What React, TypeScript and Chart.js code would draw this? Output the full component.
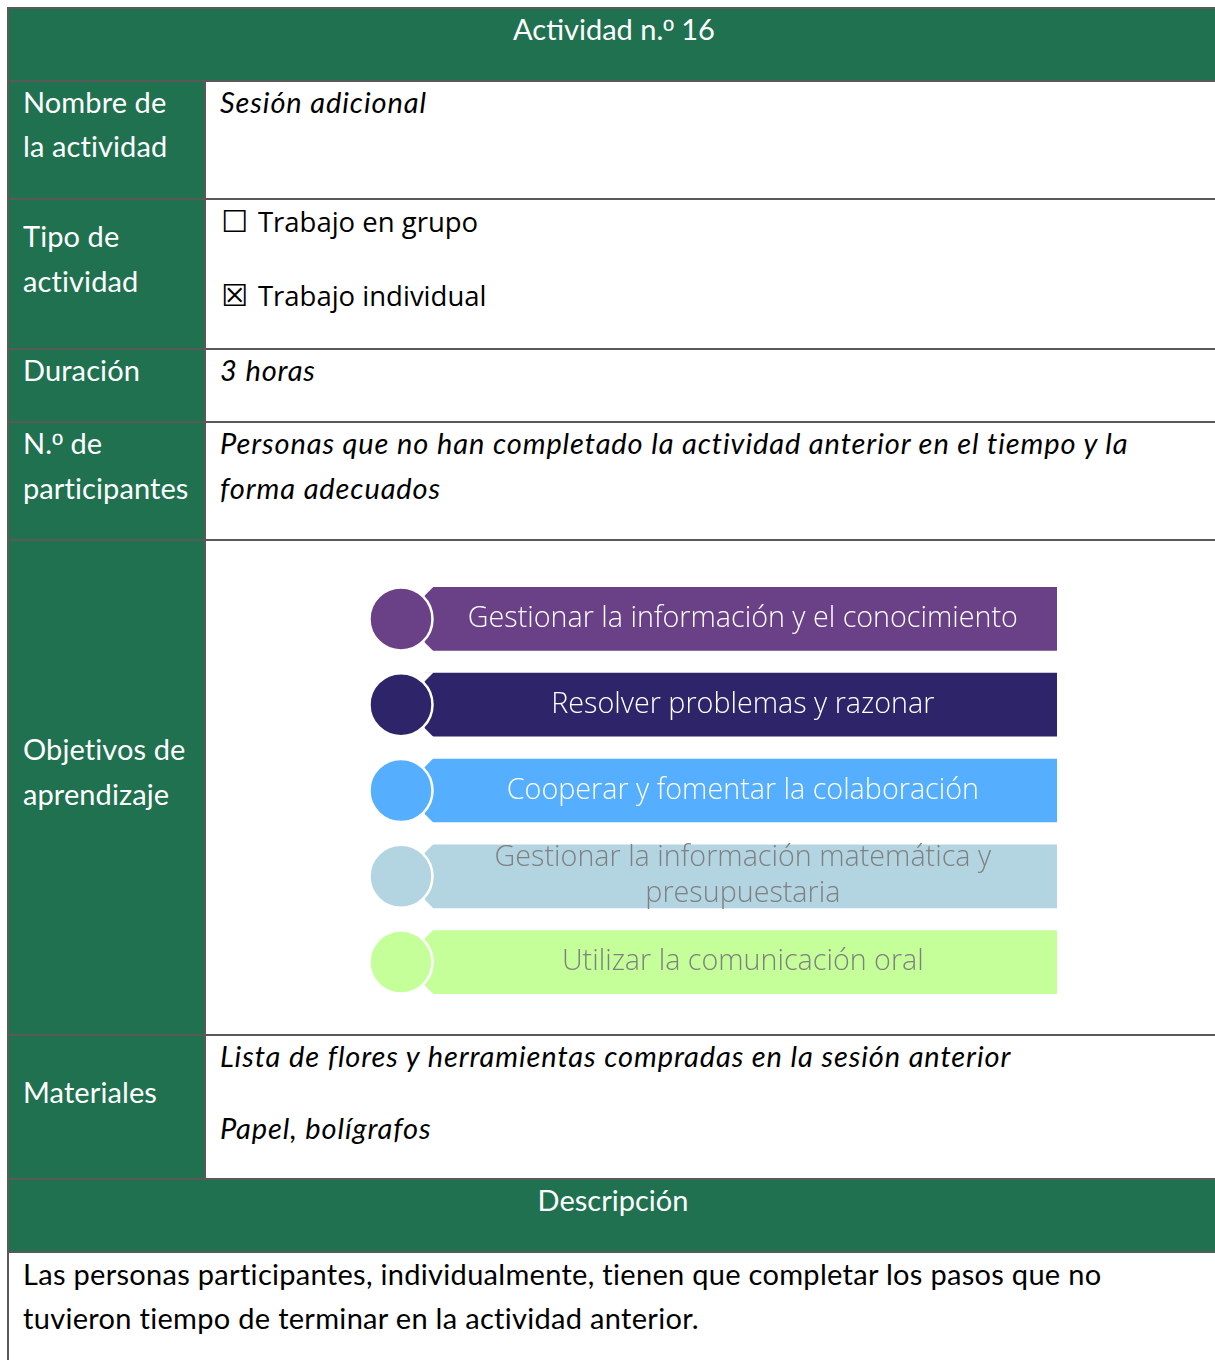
import React, { useEffect, useRef } from 'react';
import Chart from 'chart.js/auto';

// ---- content ----
const headerTitle = 'Actividad n.º 16';
const descTitle = 'Descripción';
const rowLabels = [
  ['Nombre de', 'la actividad'],
  ['Tipo de', 'actividad'],
  ['Duración'],
  ['N.º de', 'participantes'],
  ['Objetivos de', 'aprendizaje'],
  ['Materiales'],
];
const nameText = 'Sesión adicional';
const typeOptions = ['Trabajo en grupo', 'Trabajo individual'];
const typeChecked = [false, true];
const durationText = '3 horas';
const participantsLines = [
  'Personas que no han completado la actividad anterior en el tiempo y la',
  'forma adecuados',
];
const materialsLines = [
  'Lista de flores y herramientas compradas en la sesión anterior',
  'Papel, bolígrafos',
];
const descriptionLines = [
  'Las personas participantes, individualmente, tienen que completar los pasos que no',
  'tuvieron tiempo de terminar en la actividad anterior.',
];

// ---- diagram data ----
const objectiveLabels: (string | string[])[] = [
  'Gestionar la información y el conocimiento',
  'Resolver problemas y razonar',
  'Cooperar y fomentar la colaboración',
  ['Gestionar la información matemática y', 'presupuestaria'],
  'Utilizar la comunicación oral',
];
const barStart = [8.1, 8.1, 8.1, 8.1, 8.1];
const barEnd = [100, 100, 100, 100, 100];
const markerX = [4.65, 4.65, 4.65, 4.65, 4.65];
const objectiveColors = ['#6A4187', '#2D2469', '#56AEFF', '#B3D4E1', '#C5FF99'];
const objectiveTextColors = ['#FFFFFF', '#FFFFFF', '#FFFFFF', '#808080', '#808080'];

const GREEN = '#1F7150';
const BORDER = '#595959';
const CAL = 'Lato, "Open Sans", sans-serif';
const SEG = '"Open Sans", "Noto Sans", sans-serif';

function Diagram() {
  const ref = useRef<HTMLCanvasElement>(null);
  useEffect(() => {
    const chamfer = {
      id: 'chamfer',
      afterDatasetDraw(chart: any, args: any) {
        if (args.index !== 0) return;
        const ctx = chart.ctx;
        const meta = chart.getDatasetMeta(0);
        ctx.save();
        ctx.fillStyle = '#FFFFFF';
        meta.data.forEach((el: any) => {
          const p = el.getProps(['base', 'y', 'height'], true);
          const top = p.y - p.height / 2;
          const bot = p.y + p.height / 2;
          const c = 9;
          ctx.beginPath();
          ctx.moveTo(p.base - 1, top - 1);
          ctx.lineTo(p.base + c, top - 1);
          ctx.lineTo(p.base - 1, top + c);
          ctx.closePath();
          ctx.fill();
          ctx.beginPath();
          ctx.moveTo(p.base - 1, bot + 1);
          ctx.lineTo(p.base + c, bot + 1);
          ctx.lineTo(p.base - 1, bot - c);
          ctx.closePath();
          ctx.fill();
        });
        ctx.restore();
      },
    };
    const barText = {
      id: 'barText',
      afterDatasetsDraw(chart: any) {
        const ctx = chart.ctx;
        const meta = chart.getDatasetMeta(0);
        ctx.save();
        ctx.font = '300 28.7px "Open Sans", "Noto Sans", sans-serif';
        ctx.textAlign = 'center';
        ctx.textBaseline = 'middle';
        meta.data.forEach((el: any, i: number) => {
          const p = el.getProps(['base', 'x', 'y'], true);
          const cx = (p.base + p.x) / 2 + 2;
          const lab = objectiveLabels[i];
          const lines = Array.isArray(lab) ? lab : [lab];
          const lh = 36;
          ctx.fillStyle = objectiveTextColors[i];
          lines.forEach((ln, j) => {
            const yy = p.y + (j - (lines.length - 1) / 2) * lh;
            ctx.fillText(ln, cx, yy);
          });
        });
        ctx.restore();
      },
    };
    const chart = new Chart(ref.current!, {
      type: 'bar',
      data: {
        labels: objectiveLabels as any,
        datasets: [
          {
            type: 'bar',
            data: objectiveLabels.map((_, i) => [barStart[i], barEnd[i]]) as any,
            backgroundColor: objectiveColors,
            borderWidth: 0,
            barThickness: 63,
            order: 2,
          } as any,
          {
            type: 'scatter',
            data: markerX.map((x, i) => ({ x, y: i })) as any,
            pointRadius: 31.5,
            pointBackgroundColor: objectiveColors,
            pointBorderColor: '#FFFFFF',
            pointBorderWidth: 2.5,
            order: 1,
            clip: false,
          } as any,
        ],
      },
      options: {
        indexAxis: 'y',
        animation: false,
        responsive: false,
        events: [],
        layout: { padding: 0, autoPadding: false },
        plugins: { legend: { display: false }, tooltip: { enabled: false } },
        scales: {
          x: { type: 'linear', min: 0, max: 100, display: false },
          y: { type: 'category', display: false, offset: true, grid: { offset: true } },
        },
      } as any,
      plugins: [chamfer, barText],
    });
    return () => chart.destroy();
  }, []);
  return (
    <canvas
      ref={ref}
      width={688}
      height={429}
      style={{ position: 'absolute', left: 369, top: 576, width: 688, height: 429 }}
    />
  );
}

function withOrdinal(text: string) {
  const parts = text.split('º');
  const out: any[] = [];
  parts.forEach((p, i) => {
    out.push(p);
    if (i < parts.length - 1) out.push(<span key={i} style={{ fontFamily: '"Liberation Sans", "DejaVu Sans", sans-serif' }}>º</span>);
  });
  return out;
}

function T(props: { x: number; cy: number; text: string; size?: number; color?: string; italic?: boolean; font?: string; center?: boolean; ls?: number }) {
  const size = props.size ?? 29;
  const lh = 40;
  const style: any = {
    position: 'absolute',
    top: props.cy - lh / 2,
    lineHeight: lh + 'px',
    height: lh,
    fontSize: size,
    fontFamily: props.font ?? CAL,
    fontStyle: props.italic ? 'italic' : 'normal',
    fontWeight: 400,
    color: props.color ?? '#000',
    whiteSpace: 'nowrap',
    letterSpacing: props.ls ?? 0,
  };
  if (props.center) {
    style.left = props.x - 400;
    style.width = 800;
    style.textAlign = 'center';
  } else {
    style.left = props.x;
  }
  return <div style={style}>{withOrdinal(props.text)}</div>;
}

const labelCenters = [[102, 146], [236, 281], [370], [443, 488], [749, 794], [1092]];
const IT_LS = 0.9;

export default function App() {
  const hLines = [7, 80, 198, 348, 421, 539, 1034, 1178, 1251];
  return (
    <div style={{ position: 'absolute', left: 0, top: 0, width: 1215, height: 1360, overflow: 'hidden', background: '#fff' }}>
      <div style={{ position: 'absolute', left: 8, top: 8, width: 1220, height: 73, background: GREEN }} />
      <div style={{ position: 'absolute', left: 8, top: 81, width: 197, height: 1097, background: GREEN }} />
      <div style={{ position: 'absolute', left: 8, top: 1178, width: 1220, height: 74, background: GREEN }} />
      {hLines.map((y, i) => (
        <div key={'h' + i} style={{ position: 'absolute', left: 7, top: y, width: 1220, height: 2, background: BORDER }} />
      ))}
      <div style={{ position: 'absolute', left: 7, top: 7, width: 2, height: 1360, background: BORDER }} />
      <div style={{ position: 'absolute', left: 204, top: 80, width: 2, height: 1099, background: BORDER }} />

      <T x={614} cy={29} text={headerTitle} color="#fff" center />
      {rowLabels.map((lines, i) =>
        lines.map((ln, j) => <T key={i + '-' + j} x={23} cy={labelCenters[i][j]} text={ln} color="#fff" ls={0.1} />)
      )}
      <T x={220} cy={102} text={nameText} italic ls={IT_LS} />
      {typeOptions.map((t, i) => (
        <div key={'opt' + i} style={{ position: 'absolute', left: 221, top: [222, 296][i] - 20, height: 40, lineHeight: '40px', whiteSpace: 'nowrap', color: '#000' }}>
          <span style={{ fontFamily: '"DejaVu Sans", sans-serif', fontSize: 30 }}>{typeChecked[i] ? '☒' : '☐'}</span>
          <span style={{ fontFamily: SEG, fontSize: 27.5, marginLeft: 10 }}>{t}</span>
        </div>
      ))}
      <T x={220} cy={370} text={durationText} italic ls={IT_LS} />
      {participantsLines.map((t, i) => <T key={'p' + i} x={220} cy={[443, 488][i]} text={t} italic ls={IT_LS} />)}
      {materialsLines.map((t, i) => <T key={'m' + i} x={220} cy={[1056, 1128][i]} text={t} italic ls={IT_LS} />)}
      <T x={613} cy={1200} text={descTitle} color="#fff" center />
      {descriptionLines.map((t, i) => <T key={'d' + i} x={23} cy={[1274, 1318][i]} text={t} ls={0.3} />)}

      <Diagram />
    </div>
  );
}
